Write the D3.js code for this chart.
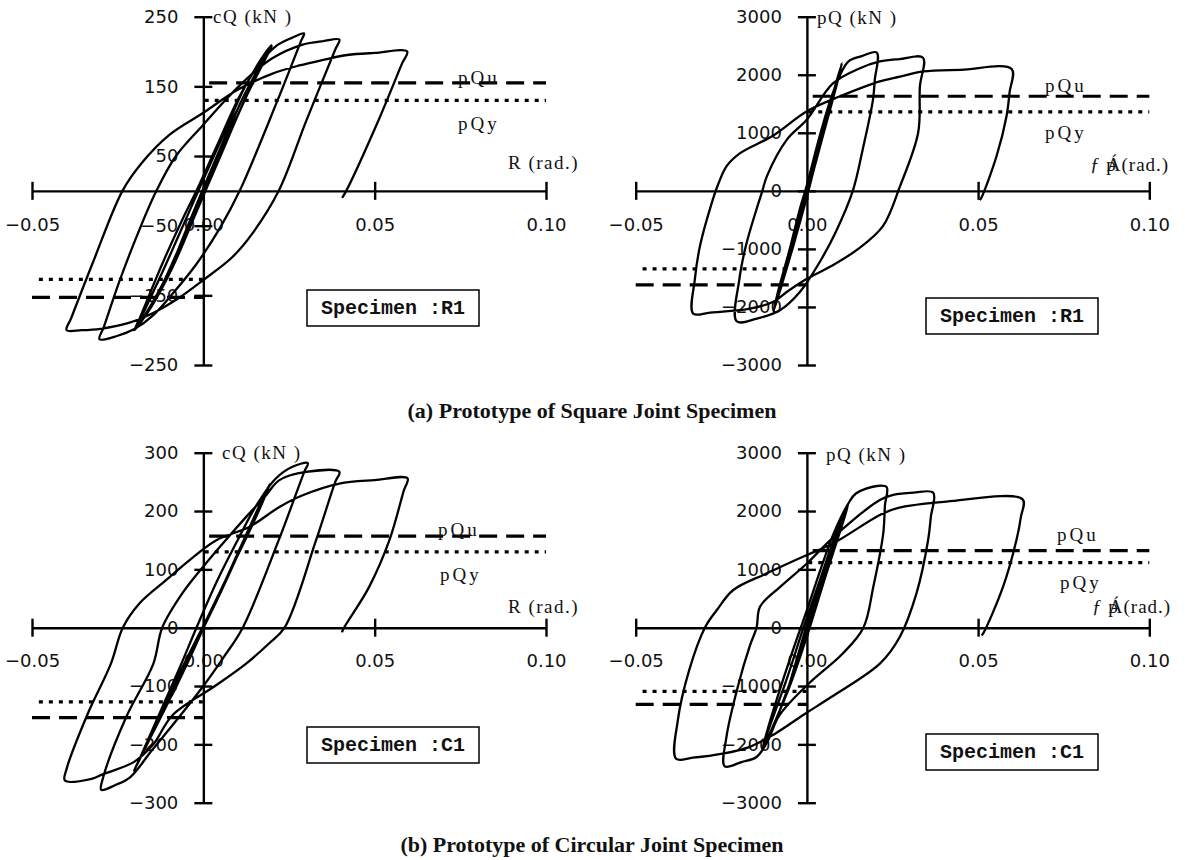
<!DOCTYPE html>
<html>
<head>
<style>
  html, body { margin: 0; padding: 0; background: #fff; overflow: hidden; }
  text { fill: #111; }
</style>
</head>
<body>
<script src="https://d3js.org/d3.v7.min.js"></script>
<script>
// ---- data ----
const driftTicks = [-0.05, 0, 0.05, 0.10];
const beamTicksR1 = [-250, -150, -50, 50, 150, 250];
const beamTicksC1 = [-300, -200, -100, 0, 100, 200, 300];
const panelTicks = [-3000, -2000, -1000, 0, 1000, 2000, 3000];

// [R (rad), Q (kN)] hysteresis, square joint R1, beam shear cQ
const r1BeamLoop = [
  [0,0],[0.0025,28],[0.005,58],[0.0038,45],[0.001,12],[-0.0025,-28],[-0.005,-58],[-0.0038,-46],[-0.001,-12],
  [0.004,42],[0.0075,85],[0.01,118],[0.0085,102],[0.004,50],[-0.001,-8],[-0.006,-68],[-0.01,-118],[-0.0085,-102],[-0.004,-52],[0.001,8],
  [0.006,70],[0.011,128],[0.016,175],[0.02,208],[0.0188,196],[0.013,140],[0.007,74],[0,-5],[-0.006,-70],[-0.012,-135],[-0.017,-178],[-0.0202,-200],
  [-0.019,-190],[-0.013,-128],[-0.007,-62],[-0.001,5],[0.006,82],[0.012,148],[0.017,190],[0.0198,209],
  [0.0185,197],[0.012,130],[0.005,50],[-0.002,-30],[-0.009,-110],[-0.015,-165],[-0.0201,-200],
  [-0.0185,-182],[-0.012,-105],[-0.006,-40],[-0.002,0],[0.004,65],[0.0105,135],[0.016,180],[0.0213,208],[0.026,220],[0.0294,226],
  [0.0285,215],[0.0215,128],[0.0106,0],[0.005,-52],[-0.002,-105],[-0.0085,-145],[-0.0145,-178],[-0.02,-198],[-0.025,-208],[-0.0303,-213],
  [-0.029,-195],[-0.0245,-130],[-0.019,-60],[-0.0137,0],[-0.008,50],[0,95],[0.006,128],[0.012,158],[0.02,190],[0.029,210],[0.035,215],[0.0397,217],
  [0.0385,203],[0.03,100],[0.022,0],[0.0145,-60],[0.0085,-95],[0,-128],[-0.0075,-155],[-0.0145,-175],[-0.022,-190],[-0.03,-198],[-0.0355,-200],[-0.0399,-200],
  [-0.0385,-182],[-0.032,-100],[-0.0236,0],[-0.0178,41],[-0.01,80],[0,112],[0.01,145],[0.02,168],[0.028,180],[0.035,188],[0.042,195],[0.05,198],[0.0595,200],
  [0.058,183],[0.051,100],[0.0417,0],[0.0405,-10]
];

// square joint R1, panel shear pQ
const r1PanelLoop = [
  [0,0],[0.0025,650],[0.0015,420],[-0.0005,-100],[-0.0025,-650],[-0.0015,-420],[0,-20],
  [0.0025,600],[0.005,1150],[0.0035,800],[0,-50],[-0.0035,-850],[-0.005,-1150],[-0.0035,-800],[0,40],
  [0.004,900],[0.0075,1650],[0.0102,2200],[0.0088,1850],[0.004,800],[0,-80],[-0.004,-950],[-0.0075,-1650],[-0.0098,-2085],
  [-0.0085,-1800],[-0.004,-900],[0,0],[0.004,900],[0.008,1750],[0.0102,2190],[0.0088,1860],[0.004,820],[0,-100],[-0.004,-950],[-0.0075,-1650],[-0.0097,-2070],
  [-0.0085,-1750],[-0.005,-1000],[-0.002,-300],[0,100],[0.004,1000],[0.008,1750],[0.012,2223],[0.016,2320],[0.0204,2383],
  [0.0198,1900],[0.0193,1571],[0.0163,714],[0.0134,0],[0.0085,-700],[0.004,-1200],[-0.002,-1737],[-0.0079,-2057],[-0.0146,-2200],[-0.0205,-2246],
  [-0.0197,-1514],[-0.0178,-943],[-0.0147,-314],[-0.013,0],[-0.0117,250],[-0.0058,886],[0,1229],[0.0076,1850],[0.015,2100],[0.0213,2229],[0.027,2270],[0.0339,2292],
  [0.033,1800],[0.0325,1006],[0.0272,80],[0.0222,-608],[0.015,-1000],[0.007,-1300],[0,-1515],[-0.0058,-1738],[-0.0098,-1909],[-0.0166,-2029],[-0.0283,-2097],[-0.0332,-2114],
  [-0.0327,-1514],[-0.0312,-943],[-0.028,-250],[-0.026,100],[-0.0234,429],[-0.0195,650],[-0.0099,950],[0,1371],[0.0097,1629],[0.0213,1886],[0.0272,1966],[0.0339,2057],[0.045,2085],[0.0598,2098],
  [0.0592,1700],[0.0583,1286],[0.0554,600],[0.051,-114],[0.0505,-160]
];

// circular joint C1, beam shear cQ
const c1BeamLoop = [
  [0,0],[0.0025,30],[0.005,60],[0.0035,42],[0,2],[-0.0025,-30],[-0.005,-62],[-0.0035,-44],[0,0],
  [0.005,60],[0.01,125],[0.0085,105],[0.003,38],[-0.003,-35],[-0.01,-125],[-0.0085,-108],[-0.003,-40],[0.002,25],
  [0.008,100],[0.014,172],[0.0194,246],[0.018,230],[0.012,150],[0.005,60],[-0.002,-25],[-0.009,-110],[-0.015,-180],[-0.0202,-245],
  [-0.019,-230],[-0.012,-140],[-0.005,-55],[0.001,15],[0.008,100],[0.014,175],[0.0194,244],[0.0182,232],[0.011,140],[0.004,50],[-0.003,-35],[-0.01,-125],[-0.016,-195],[-0.0202,-245],
  [-0.019,-230],[-0.013,-150],[-0.007,-70],[-0.002,0],[0.004,80],[0.01,150],[0.015,205],[0.021,255],[0.026,276],[0.0305,282],
  [0.0295,268],[0.022,150],[0.0115,0],[0.006,-50],[0,-100],[-0.008,-160],[-0.015,-210],[-0.0213,-256],[-0.0258,-270],[-0.0298,-278],
  [-0.0292,-256],[-0.0225,-153],[-0.0146,-62],[-0.012,0],[-0.006,60],[0,105],[0.0065,150],[0.0125,190],[0.018,225],[0.0222,253],[0.03,267],[0.0397,267],
  [0.0385,250],[0.0329,150],[0.0237,0],[0.019,-28],[0.0124,-62],[0.0034,-100],[-0.009,-150],[-0.0146,-200],[-0.0202,-230],[-0.0292,-251],[-0.0326,-259],[-0.0404,-262],
  [-0.0399,-242],[-0.0337,-147],[-0.027,-62],[-0.0235,0],[-0.0186,42],[-0.0108,82],[-0.004,116],[0.0038,150],[0.0135,173],[0.0222,207],[0.029,227],[0.0397,247],[0.05,253],[0.0596,256],
  [0.0585,235],[0.0543,150],[0.0484,70],[0.0407,-4],[0.0405,-8]
];

// circular joint C1, panel shear pQ
const c1PanelLoop = [
  [0,0],[0.0025,500],[0.0015,300],[-0.0005,-100],[-0.0025,-500],[-0.0015,-300],[0,0],
  [0.003,600],[0.006,1150],[0.0045,850],[0,-50],[-0.0045,-850],[-0.006,-1150],[-0.0045,-850],[0,50],
  [0.005,950],[0.009,1650],[0.0121,2120],[0.0105,1800],[0.005,850],[0,-100],[-0.005,-950],[-0.0095,-1650],[-0.0131,-2103],
  [-0.0115,-1800],[-0.006,-900],[-0.001,0],[0.004,850],[0.009,1700],[0.012,2100],[0.0105,1800],[0.005,800],[0,-150],[-0.005,-1000],[-0.01,-1700],[-0.013,-2090],
  [-0.0115,-1750],[-0.007,-900],[-0.003,-200],[0,300],[0.004,1000],[0.0077,1600],[0.012,2120],[0.0143,2300],[0.0204,2429],[0.0233,2410],
  [0.0228,2100],[0.0223,1618],[0.0194,703],[0.0165,0],[0.0104,-446],[0.0005,-960],[-0.008,-1500],[-0.0115,-1950],[-0.0147,-2217],[-0.0191,-2303],[-0.024,-2377],
  [-0.0235,-1874],[-0.0202,-1017],[-0.0166,-300],[-0.0147,0],[-0.0137,360],[-0.0078,700],[0,1100],[0.0077,1550],[0.0213,2189],[0.0252,2275],[0.0311,2314],[0.0369,2314],
  [0.0362,1900],[0.0354,1503],[0.032,589],[0.0272,-150],[0.0213,-617],[0.0071,-1189],[-0.0005,-1474],[-0.0093,-1817],[-0.0169,-2046],[-0.0246,-2160],[-0.0333,-2229],[-0.0382,-2246],
  [-0.0377,-1589],[-0.0344,-731],[-0.0298,0],[-0.0263,303],[-0.0215,646],[-0.0117,932],[0,1246],[0.0077,1446],[0.0213,1932],[0.0262,2047],[0.0408,2161],[0.063,2200],
  [0.0625,1900],[0.0612,1503],[0.0573,703],[0.0515,-96],[0.051,-130]
];

// strength levels: [positive, negative]
const pQuR1Beam = [155, -153], pQyR1Beam = [130, -127];
const pQuR1Panel = [1630, -1620], pQyR1Panel = [1360, -1345];
const pQuC1Beam = [157, -154], pQyC1Beam = [130, -127];
const pQuC1Panel = [1320, -1314], pQyC1Panel = [1115, -1090];

const titles = ["(a) Prototype of Square Joint Specimen", "(b) Prototype of Circular Joint Specimen"];

// ---- layout ----
const W = 1185, H = 860;
const svg = d3.select("body").append("svg").attr("width", W).attr("height", H);

const panels = [
  { loop: r1BeamLoop, xr: [32, 546], ydom: [-250, 250], yr: [365, 16.7], yTicks: beamTicksR1,
    pQu: pQuR1Beam, pQy: pQyR1Beam, yLab: "cQ (kN )", yLabPos: [213, 23], xLab: "R",
    uPos: [458, 84], yPos: [458, 130], xLabPos: [508, 169], spec: "Specimen :R1", box: [307, 290] },
  { loop: r1PanelLoop, xr: [635.7, 1149.3], ydom: [-3000, 3000], yr: [365, 16.7], yTicks: panelTicks,
    pQu: pQuR1Panel, pQy: pQyR1Panel, yLab: "pQ (kN )", yLabPos: [817, 24], xLab: "theta",
    uPos: [1045, 92], yPos: [1045, 139], xLabPos: [1090, 171], spec: "Specimen :R1", box: [926, 298] },
  { loop: c1BeamLoop, xr: [32, 546], ydom: [-300, 300], yr: [802.7, 452.7], yTicks: beamTicksC1,
    pQu: pQuC1Beam, pQy: pQyC1Beam, yLab: "cQ (kN )", yLabPos: [222, 459], xLab: "R",
    uPos: [438, 536], yPos: [440, 581], xLabPos: [508, 613], spec: "Specimen :C1", box: [307, 727] },
  { loop: c1PanelLoop, xr: [635.7, 1149.3], ydom: [-3000, 3000], yr: [802.7, 452.7], yTicks: panelTicks,
    pQu: pQuC1Panel, pQy: pQyC1Panel, yLab: "pQ (kN )", yLabPos: [826, 461], xLab: "theta",
    uPos: [1057, 541], yPos: [1060, 589], xLabPos: [1092, 613], spec: "Specimen :C1", box: [926, 734] }
];

const serif = "'Liberation Serif', 'Times New Roman', serif";

panels.forEach(p => {
  const x = d3.scaleLinear().domain([-0.05, 0.10]).range(p.xr);
  const y = d3.scaleLinear().domain(p.ydom).range(p.yr);
  const g = svg.append("g");

  // strength reference lines
  const guides = [
    { v: p.pQu[0], from: 0.0017, to: 0.10, dash: "18,9" },
    { v: p.pQy[0], from: 0.0004, to: 0.10, dash: "4,6" },
    { v: p.pQu[1], from: -0.05, to: 0, dash: "18,9" },
    { v: p.pQy[1], from: -0.048, to: 0, dash: "4,6" }
  ];
  g.selectAll(".guide").data(guides).join("line")
    .attr("x1", d => x(d.from)).attr("x2", d => x(d.to))
    .attr("y1", d => y(d.v)).attr("y2", d => y(d.v))
    .attr("stroke", "#000").attr("stroke-width", 3.2)
    .attr("stroke-dasharray", d => d.dash);

  // axes through the origin
  const xAxis = g.append("g").attr("transform", `translate(0,${y(0)})`)
    .call(d3.axisBottom(x).tickValues(driftTicks).tickFormat(d3.format(".2f")).tickSize(9).tickSizeOuter(0));
  xAxis.selectAll(".tick line").attr("y1", -9).attr("y2", 9);
  xAxis.selectAll(".tick text").attr("y", 27);

  const yAxis = g.append("g").attr("transform", `translate(${x(0)},0)`)
    .call(d3.axisLeft(y).tickValues(p.yTicks).tickFormat(d3.format("d")).tickSize(9).tickSizeOuter(0));
  yAxis.selectAll(".tick line").attr("x1", 9);
  yAxis.selectAll(".tick text").attr("x", -25);

  [xAxis, yAxis].forEach(a => {
    a.selectAll("path, line").attr("stroke", "#000").attr("stroke-width", 2.4);
    a.selectAll("text").attr("font-family", "'DejaVu Sans', sans-serif").attr("font-size", 18).attr("fill", "#222");
  });

  // hysteresis curve
  g.append("path").datum(p.loop)
    .attr("d", d3.line().x(d => x(d[0])).y(d => y(d[1])).curve(d3.curveCatmullRom.alpha(0.5)))
    .attr("fill", "none").attr("stroke", "#000").attr("stroke-width", 2.3)
    .attr("stroke-linejoin", "round");

  // labels
  const lab = (pos, txt) => g.append("text").attr("x", pos[0]).attr("y", pos[1])
    .attr("font-family", serif).attr("font-size", 19).attr("letter-spacing", 1.5).text(txt);
  lab(p.yLabPos, p.yLab);
  lab(p.uPos, "pQu").attr("letter-spacing", 3);
  lab(p.yPos, "pQy").attr("letter-spacing", 3);
  if (p.xLab === "R") {
    lab(p.xLabPos, "R (rad.)");
  } else {
    const t = g.append("text").attr("x", p.xLabPos[0]).attr("y", p.xLabPos[1])
      .attr("font-family", serif).attr("font-size", 19).attr("letter-spacing", 1);
    t.append("tspan").attr("font-style", "italic").text("ƒ ");
    t.append("tspan").text("p");
    t.append("tspan").attr("dx", -10).text("Á");
    t.append("tspan").text("(rad.)");
  }

  // specimen box
  const bw = 172, bh = 36;
  g.append("rect").attr("x", p.box[0]).attr("y", p.box[1]).attr("width", bw).attr("height", bh)
    .attr("fill", "#fff").attr("stroke", "#000").attr("stroke-width", 1.5);
  g.append("text").attr("x", p.box[0] + bw / 2).attr("y", p.box[1] + bh / 2 + 6)
    .attr("text-anchor", "middle").attr("font-family", "'Liberation Mono', 'Courier New', monospace")
    .attr("font-weight", "bold").attr("font-size", 20).text(p.spec);
});

// sub-figure captions
svg.selectAll(".caption").data(titles).join("text")
  .attr("x", 592).attr("y", (d, i) => i === 0 ? 418 : 852)
  .attr("text-anchor", "middle").attr("font-family", serif)
  .attr("font-weight", "bold").attr("font-size", 22).text(d => d);
</script>
</body>
</html>
